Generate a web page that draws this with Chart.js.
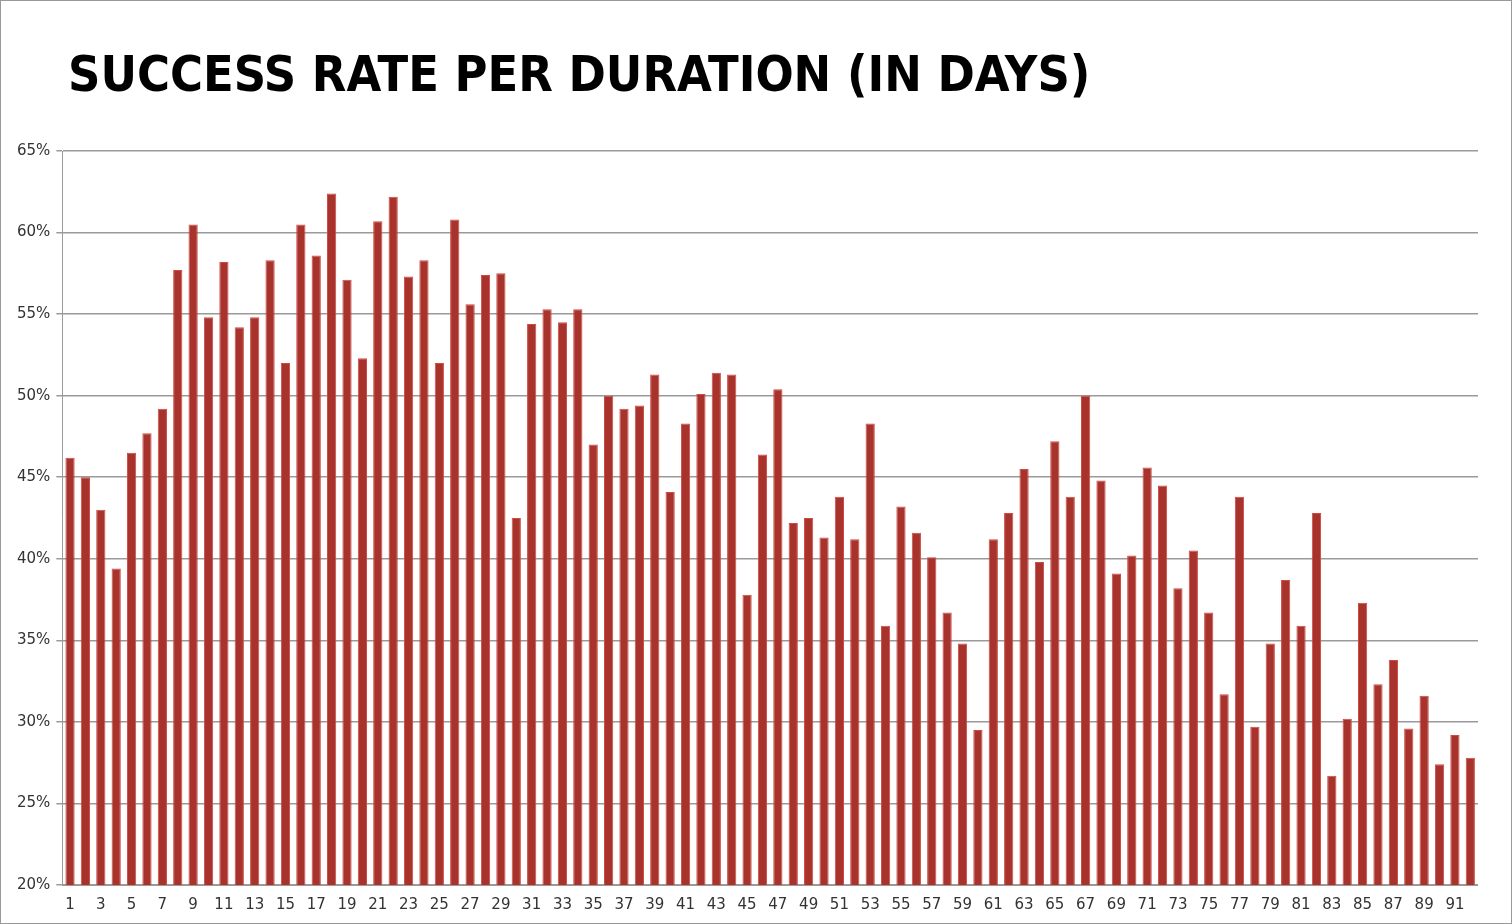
<!DOCTYPE html>
<html>
<head>
<meta charset="utf-8">
<script src="https://cdn.jsdelivr.net/npm/chart.js@4/dist/chart.umd.min.js"></script>
<style>
  html, body { margin: 0; padding: 0; background: #fff; }
  #wrap { position: relative; width: 1510px; height: 922px; border: 1px solid #999; }
  h1 { position: absolute; left: 67px; top: 44px; margin: 0; font-family: "DejaVu Sans Condensed", "DejaVu Sans"; font-weight: bold; font-size: 50px; color: #000; }
  #box { position: absolute; left: 0; top: 135px; width: 1477px; height: 781px; }
</style>
</head>
<body>
<div id="wrap">
  <h1>SUCCESS RATE PER DURATION (IN DAYS)</h1>
  <div id="box"><canvas id="myChart"></canvas></div>
</div>
<script>
const days = [];
for (let d = 1; d <= 92; d++) days.push(String(d));

const successRate = [
    46.2, 45.0, 43.0, 39.4, 46.5, 47.7, 49.2, 57.7, 60.5, 54.8,
    58.2, 54.2, 54.8, 58.3, 52.0, 60.5, 58.6, 62.4, 57.1, 52.3,
    60.7, 62.2, 57.3, 58.3, 52.0, 60.8, 55.6, 57.4, 57.5, 42.5,
    54.4, 55.3, 54.5, 55.3, 47.0, 50.0, 49.2, 49.4, 51.3, 44.1,
    48.3, 50.1, 51.4, 51.3, 37.8, 46.4, 50.4, 42.2, 42.5, 41.3,
    43.8, 41.2, 48.3, 35.9, 43.2, 41.6, 40.1, 36.7, 34.8, 29.5,
    41.2, 42.8, 45.5, 39.8, 47.2, 43.8, 50.0, 44.8, 39.1, 40.2,
    45.6, 44.5, 38.2, 40.5, 36.7, 31.7, 43.8, 29.7, 34.8, 38.7,
    35.9, 42.8, 26.7, 30.2, 37.3, 32.3, 33.8, 29.6, 31.6, 27.4,
    29.2, 27.8
];

let chart;
function createChart() {
    const ctx = document.getElementById('myChart').getContext('2d');
    chart = new Chart(ctx, {
        type: 'bar',
        data: {
            labels: days,
            datasets: [{
                label: 'Success rate',
                data: successRate,
                backgroundColor: '#a8332c',
                borderColor: '#d04a42',
                borderWidth: 1,
                barPercentage: 0.6,
                categoryPercentage: 1.0
            }]
        },
        options: {
            responsive: true,
            maintainAspectRatio: false,
            animation: false,
            layout: { padding: { left: 10, right: 0, top: 5, bottom: 0 } },
            plugins: { legend: { display: false }, tooltip: { enabled: false } },
            scales: {
                y: {
                    min: 20, max: 65,
                    ticks: { stepSize: 5, color: '#333', padding: 6, font: { family: 'DejaVu Sans', size: 15 }, callback: v => v + '%' },
                    grid: { color: '#9a9a9a', lineWidth: 1.5, drawTicks: true, tickLength: 6 },
                    border: { color: '#9a9a9a' }
                },
                x: {
                    ticks: {
                        autoSkip: false, maxRotation: 0, color: '#333',
                        font: { family: 'DejaVu Sans', size: 15 },
                        callback: function (v, i) { return i % 2 === 0 ? days[i] : ''; }
                    },
                    grid: { display: false, drawTicks: true },
                    border: { color: '#9a9a9a' }
                }
            }
        }
    });
}

document.addEventListener('DOMContentLoaded', createChart);
</script>
</body>
</html>
